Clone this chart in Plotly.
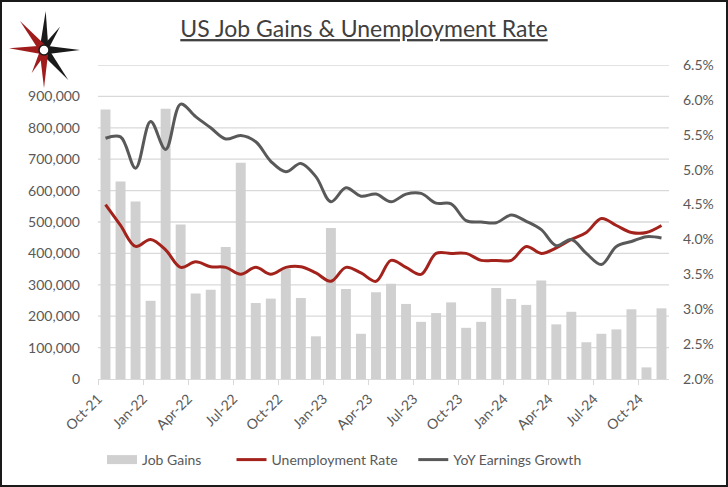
import math
import plotly.graph_objects as go

# ---------------- data ----------------
months = ["Oct-21", "Nov-21", "Dec-21", "Jan-22", "Feb-22", "Mar-22", "Apr-22", "May-22",
          "Jun-22", "Jul-22", "Aug-22", "Sep-22", "Oct-22", "Nov-22", "Dec-22", "Jan-23",
          "Feb-23", "Mar-23", "Apr-23", "May-23", "Jun-23", "Jul-23", "Aug-23", "Sep-23",
          "Oct-23", "Nov-23", "Dec-23", "Jan-24", "Feb-24", "Mar-24", "Apr-24", "May-24",
          "Jun-24", "Jul-24", "Aug-24", "Sep-24", "Oct-24", "Nov-24"]

job_gains = [858000, 629000, 565000, 249000, 861000, 492000, 272000, 284000,
             420000, 689000, 242000, 256000, 350000, 258000, 136000, 481000,
             287000, 144000, 276000, 303000, 239000, 182000, 210000, 244000,
             163000, 182000, 290000, 255000, 236000, 314000, 174000, 214000,
             117000, 144000, 158000, 222000, 37000, 225000]

unemployment = [4.5, 4.2, 3.9, 4.0, 3.85, 3.6, 3.68, 3.61,
                3.6, 3.5, 3.6, 3.5, 3.6, 3.61, 3.52, 3.4,
                3.6, 3.52, 3.4, 3.7, 3.6, 3.5, 3.8, 3.8,
                3.8, 3.7, 3.7, 3.7, 3.9, 3.8, 3.88, 4.0,
                4.1, 4.3, 4.2, 4.1, 4.1, 4.2]

earnings = [5.45, 5.47, 5.02, 5.69, 5.29, 5.94, 5.76, 5.60,
            5.44, 5.49, 5.40, 5.12, 4.97, 5.09, 4.90, 4.54,
            4.74, 4.62, 4.65, 4.54, 4.65, 4.66, 4.52, 4.51,
            4.27, 4.25, 4.24, 4.35, 4.26, 4.14, 3.91, 4.00,
            3.80, 3.64, 3.90, 3.97, 4.04, 4.02]

left_ticks = [0, 100000, 200000, 300000, 400000, 500000, 600000, 700000, 800000, 900000, 1000000]
right_ticks = [2.0, 2.5, 3.0, 3.5, 4.0, 4.5, 5.0, 5.5, 6.0, 6.5]

# ---------------- layout geometry ----------------
W, H = 728, 487
L, R, T, B = 98, 59, 65, 108
PW, PH = W - L - R, H - T - B

GRAY_TXT = "#595959"
GRID = "#D9D9D9"
BAR = "#D0D0D0"
RED = "#A3231C"
DARK = "#595959"
FONT = "Lato"

n = len(months)
xpos = [i + 0.5 for i in range(n)]


def px(x):
    return (x - L) / PW


def py(y):
    return (H - B - y) / PH


fig = go.Figure()
fig.add_trace(go.Bar(x=xpos, y=job_gains, name="Job Gains", marker_color=BAR,
                     marker_line_width=0, width=0.66, showlegend=False))
# legend-only entry drawn as a wide rectangle like the reference
fig.add_trace(go.Scatter(x=[None], y=[None], name="Job Gains       ", mode="lines",
                         line=dict(color=BAR, width=9)))
fig.add_trace(go.Scatter(x=xpos, y=unemployment, name="Unemployment Rate   ", yaxis="y2",
                         mode="lines", line=dict(color=RED, width=3, shape="spline", smoothing=1)))
fig.add_trace(go.Scatter(x=xpos, y=earnings, name="YoY Earnings Growth", yaxis="y2",
                         mode="lines", line=dict(color=DARK, width=3, shape="spline", smoothing=1)))

shapes = []
# horizontal gridlines at the left-axis ticks
for v in left_ticks[1:]:
    shapes.append(dict(type="line", xref="paper", yref="y", x0=0, x1=1, y0=v, y1=v,
                       line=dict(color=GRID, width=1.3), layer="below"))
# outer border
shapes.append(dict(type="rect", xref="paper", yref="paper",
                   x0=px(1), x1=px(727), y0=py(486), y1=py(1),
                   line=dict(color="#1a1a1a", width=2), fillcolor="rgba(0,0,0,0)", layer="above"))

# logo: 8-point star
cx, cy = 44, 50
tips = [((45.7, 11), "#1a1a1a"), ((60, 26.7), "#1a1a1a"), ((80, 50), "#1a1a1a"),
        ((68.3, 80), "#1a1a1a"), ((44, 88), "#A01C1C"), ((31.7, 73), "#A01C1C"),
        ((9, 48.3), "#A01C1C"), ((20, 21), "#A01C1C")]
for (tx, ty), col in tips:
    dx, dy = tx - cx, ty - cy
    d = math.hypot(dx, dy)
    hw = 4.5 if d > 30 else 3.5
    nx, ny = -dy / d * hw, dx / d * hw
    p1 = (cx + nx, cy + ny)
    p2 = (cx - nx, cy - ny)
    path = "M {:.5f},{:.5f} L {:.5f},{:.5f} L {:.5f},{:.5f} Z".format(
        px(p1[0]), py(p1[1]), px(tx), py(ty), px(p2[0]), py(p2[1]))
    shapes.append(dict(type="path", xref="paper", yref="paper", path=path,
                       fillcolor=col, line=dict(width=0), layer="above"))
shapes.append(dict(type="circle", xref="paper", yref="paper",
                   x0=px(cx - 5), x1=px(cx + 5), y0=py(cy + 5), y1=py(cy - 5),
                   fillcolor="white", line=dict(color="#1a1a1a", width=1.5), layer="above"))

fig.update_layout(
    width=W, height=H,
    margin=dict(l=L, r=R, t=T, b=B, autoexpand=False),
    paper_bgcolor="white", plot_bgcolor="rgba(0,0,0,0)",
    font=dict(family=FONT, size=14, color=GRAY_TXT),
    title=dict(text="US Job Gains & Unemployment Rate", x=364 / W, xref="container", xanchor="center",
               y=1 - 29 / H, yref="container", yanchor="middle",
               font=dict(family=FONT, size=23, color="#404040", lineposition="under")),
    showlegend=True,
    legend=dict(orientation="h", x=102 / W, xref="container", xanchor="left",
                y=1 - 460 / H, yref="container", yanchor="middle",
                font=dict(family=FONT, size=14, color=GRAY_TXT),
                traceorder="normal", itemwidth=30),
    xaxis=dict(range=[0, n], tickmode="array", tickvals=list(range(0, n, 3)),
               ticktext=months[0::3], tickangle=-45, ticks="outside", ticklen=5,
               tickcolor=GRID, showline=True, linecolor=GRID, linewidth=1.3,
               showgrid=False, zeroline=False, automargin=False,
               tickfont=dict(size=14, color=GRAY_TXT)),
    yaxis=dict(range=[0, 1000000], tickmode="array", tickvals=left_ticks,
               ticktext=["{:,}".format(v) if v < 1000000 else "" for v in left_ticks],
               showgrid=False, zeroline=False, ticks="", automargin=False,
               ticklabelstandoff=17, tickfont=dict(size=14, color=GRAY_TXT)),
    yaxis2=dict(range=[2.0, 6.5], overlaying="y", side="right", tickmode="array",
                tickvals=right_ticks, ticktext=["{:.1f}%".format(v) for v in right_ticks],
                showgrid=False, zeroline=False, ticks="", ticklabelstandoff=13,
                automargin=False, tickfont=dict(size=14, color=GRAY_TXT)),
    shapes=shapes,
)

fig.write_html("out.html", config={"displayModeBar": False},
               post_script="document.body.style.margin='0';document.body.style.overflow='hidden';")
